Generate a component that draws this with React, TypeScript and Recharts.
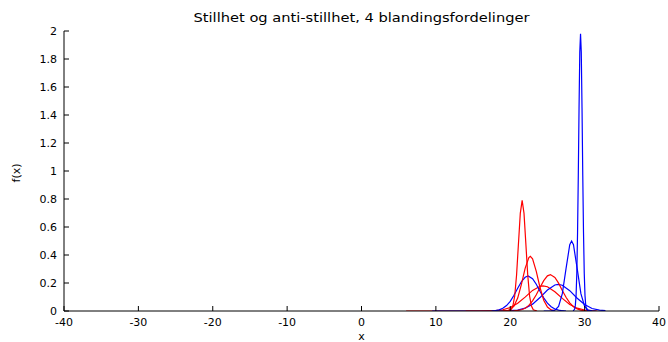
import React from 'react';
import { LineChart, Line, XAxis, YAxis } from 'recharts';

type Pt = [number, number];

// x ticks / y ticks
const xTicks = [-40, -30, -20, -10, 0, 10, 20, 30, 40];
const yTicks = [0, 0.2, 0.4, 0.6, 0.8, 1, 1.2, 1.4, 1.6, 1.8, 2];

// red components
const redBroad: Pt[] = [
  [6, 0], [16, 0], [17, 0.001], [18, 0.003], [19, 0.009], [20, 0.024], [21, 0.055], [22, 0.099],
  [23, 0.147], [24, 0.177], [24.4, 0.18], [25, 0.173], [26, 0.138], [27, 0.09], [28, 0.047],
  [29, 0.02], [30, 0.007], [31, 0.002], [31.7, 0],
];
const redMid: Pt[] = [
  [14, 0], [20, 0], [20.5, 0.001], [21, 0.004], [21.5, 0.009], [22, 0.02], [22.5, 0.04], [23, 0.072],
  [23.5, 0.116], [24, 0.168], [24.5, 0.217], [25, 0.251], [25.4, 0.26], [26, 0.24], [26.5, 0.199],
  [27, 0.147], [27.5, 0.098], [28, 0.058], [28.5, 0.031], [29, 0.015], [29.5, 0.006], [30, 0.002], [30.5, 0],
];
const redSecond: Pt[] = [
  [19, 0.001], [19.5, 0.002], [20, 0.01], [20.5, 0.035], [21, 0.092], [21.5, 0.19], [22, 0.305],
  [22.5, 0.382], [22.7, 0.39], [23, 0.373], [23.5, 0.283], [24, 0.168], [24.5, 0.077], [25, 0.028],
  [25.5, 0.008], [26, 0.002],
];
const redTall: Pt[] = [
  [19.6, 0], [20.1, 0.009], [20.35, 0.035], [20.6, 0.107], [20.85, 0.257], [21.1, 0.479], [21.35, 0.697],
  [21.6, 0.79], [21.85, 0.697], [22.1, 0.479], [22.35, 0.257], [22.6, 0.107], [22.85, 0.035], [23.1, 0.009],
  [23.6, 0],
];

// blue components
const blueBroad: Pt[] = [
  [9.5, 0], [18, 0], [20, 0.002], [21, 0.006], [22, 0.02], [23, 0.049], [24, 0.096], [25, 0.15],
  [26, 0.186], [26.45, 0.19], [27, 0.184], [28, 0.145], [29, 0.091], [30, 0.046], [31, 0.018],
  [32, 0.006], [32.8, 0.002],
];
const blueLeft: Pt[] = [
  [17.5, 0], [18, 0.003], [18.5, 0.008], [19, 0.019], [19.5, 0.039], [20, 0.069], [20.5, 0.112],
  [21, 0.162], [21.5, 0.209], [22, 0.241], [22.4, 0.25], [23, 0.231], [23.5, 0.191], [24, 0.141],
  [24.5, 0.094], [25, 0.056], [25.5, 0.03], [26, 0.014], [26.5, 0.006], [27, 0.002], [27.5, 0],
];
const blueRight: Pt[] = [
  [24.5, 0], [25.5, 0.001], [26, 0.006], [26.5, 0.033], [27, 0.124], [27.5, 0.303], [28, 0.473],
  [28.25, 0.5], [28.5, 0.473], [29, 0.303], [29.5, 0.124], [30, 0.033], [30.5, 0.006], [31, 0.001], [31.5, 0],
];
const blueSpike: Pt[] = [
  [28.45, 0], [28.65, 0.012], [28.75, 0.04], [28.85, 0.11], [28.95, 0.27], [29.05, 0.56], [29.15, 0.97],
  [29.25, 1.45], [29.35, 1.85], [29.45, 1.98], [29.55, 1.85], [29.65, 1.45], [29.75, 0.97], [29.85, 0.56],
  [29.95, 0.27], [30.05, 0.11], [30.15, 0.04], [30.25, 0.012], [30.45, 0],
];

const series: { pts: Pt[]; color: string }[] = [
  { pts: redBroad, color: '#ff0000' },
  { pts: blueBroad, color: '#0000ff' },
  { pts: redMid, color: '#ff0000' },
  { pts: blueLeft, color: '#0000ff' },
  { pts: redSecond, color: '#ff0000' },
  { pts: redTall, color: '#ff0000' },
  { pts: blueRight, color: '#0000ff' },
  { pts: blueSpike, color: '#0000ff' },
];

const FONT = '"DejaVu Sans", sans-serif';
const TICK = 5;

const BottomTick = (p: any) => (
  <g>
    <line x1={p.x} y1={p.y} x2={p.x} y2={p.y - TICK} stroke="#000" />
    <text x={p.x} y={p.y + 15} textAnchor="middle" fontSize={11} fontFamily={FONT} fill="#000">
      {p.payload.value}
    </text>
  </g>
);
const TopTick = (p: any) => <line x1={p.x} y1={p.y} x2={p.x} y2={p.y + TICK} stroke="#000" />;
const LeftTick = (p: any) => (
  <g>
    <line x1={p.x} y1={p.y} x2={p.x + TICK} y2={p.y} stroke="#000" />
    <text x={p.x - 7} y={p.y} dy="0.36em" textAnchor="end" fontSize={11} fontFamily={FONT} fill="#000">
      {p.payload.value}
    </text>
  </g>
);
const RightTick = (p: any) => <line x1={p.x} y1={p.y} x2={p.x - TICK} y2={p.y} stroke="#000" />;

export default function App() {
  return (
    <div style={{ position: 'relative', width: 668, height: 342, background: '#fff' }}>
      <style>{'body{margin:0}'}</style>
      <LineChart width={668} height={342} margin={{ top: 31, right: 9, left: 14, bottom: 0 }}>
        <XAxis
          xAxisId="b"
          type="number"
          dataKey="x"
          domain={[-40, 40]}
          ticks={xTicks}
          allowDataOverflow
          height={31}
          tickSize={0}
          tickMargin={0}
          tickLine={false}
          axisLine={{ stroke: '#000' }}
          tick={BottomTick}
          interval={0}
        />
        <XAxis
          xAxisId="t"
          orientation="top"
          type="number"
          dataKey="x"
          domain={[-40, 40]}
          ticks={xTicks}
          allowDataOverflow
          height={0}
          tickSize={0}
          tickMargin={0}
          tickLine={false}
          axisLine={{ stroke: '#000' }}
          tick={TopTick}
          interval={0}
        />
        <YAxis
          yAxisId="l"
          type="number"
          domain={[0, 2]}
          ticks={yTicks}
          allowDataOverflow
          width={50}
          tickSize={0}
          tickMargin={0}
          tickLine={false}
          axisLine={{ stroke: '#000' }}
          tick={LeftTick}
          interval={0}
        />
        <YAxis
          yAxisId="r"
          orientation="right"
          type="number"
          domain={[0, 2]}
          ticks={yTicks}
          allowDataOverflow
          width={0}
          tickSize={0}
          tickMargin={0}
          tickLine={false}
          axisLine={{ stroke: '#000' }}
          tick={RightTick}
          interval={0}
        />
        {series.map((s, i) => (
          <Line
            key={i}
            xAxisId="b"
            yAxisId="l"
            data={s.pts.map(([x, y]) => ({ x, y }))}
            dataKey="y"
            type="linear"
            stroke={s.color}
            strokeWidth={1.2}
            dot={false}
            activeDot={false}
            isAnimationActive={false}
          />
        ))}
      </LineChart>
      <svg width={668} height={342} style={{ position: 'absolute', left: 0, top: 0, pointerEvents: 'none' }}>
        <text x={361.5} y={22} textAnchor="middle" fontSize={12} fontFamily={FONT} textLength={336} lengthAdjust="spacingAndGlyphs">
          Stillhet og anti-stillhet, 4 blandingsfordelinger
        </text>
        <text x={361.5} y={340} textAnchor="middle" fontSize={11} fontFamily={FONT}>x</text>
        <text x={0} y={0} transform="translate(20,173) rotate(-90)" textAnchor="middle" fontSize={11} fontFamily={FONT}>f(x)</text>
      </svg>
    </div>
  );
}
